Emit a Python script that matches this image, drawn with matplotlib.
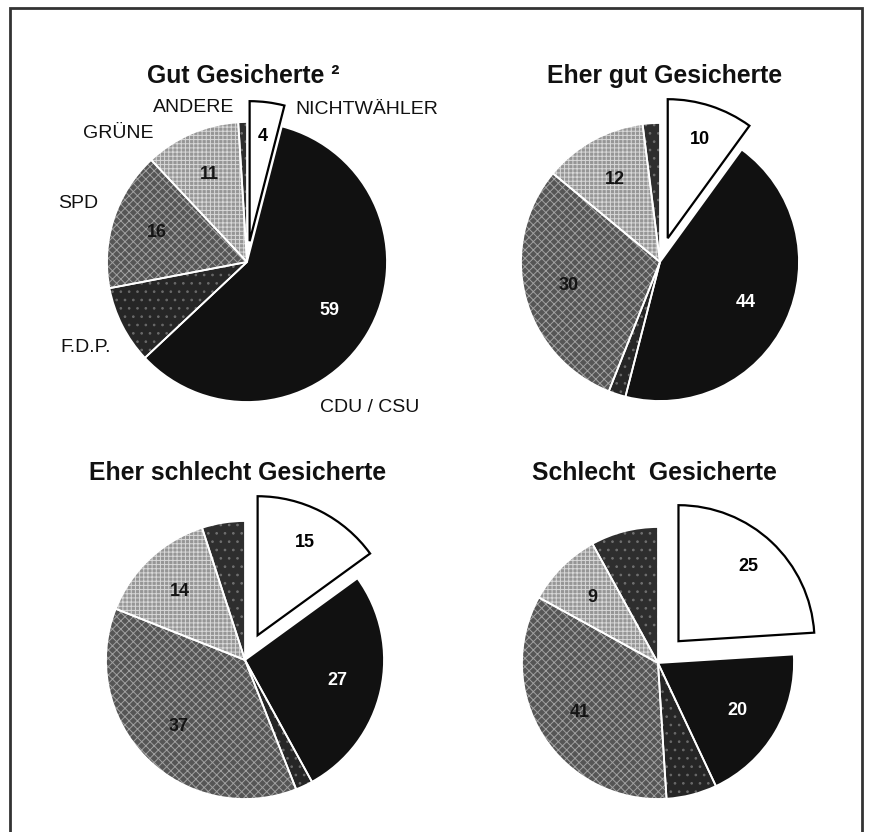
import matplotlib
matplotlib.use('Agg')
import matplotlib.pyplot as plt
import numpy as np

plt.rcParams['font.family'] = ['Liberation Sans', 'DejaVu Sans']
plt.rcParams['hatch.linewidth'] = 0.7

# ---- data -------------------------------------------------------------
parties = ['NICHTWÄHLER', 'CDU / CSU', 'F.D.P.', 'SPD', 'GRÜNE', 'ANDERE']
titles = ['Gut Gesicherte ²', 'Eher gut Gesicherte',
          'Eher schlecht Gesicherte', 'Schlecht  Gesicherte']
gut_gesicherte = [4, 59, 9, 16, 11, 1]
eher_gut_gesicherte = [10, 44, 2, 30, 12, 2]
eher_schlecht_gesicherte = [15, 27, 2, 37, 14, 5]
schlecht_gesicherte = [24, 19, 6, 34, 9, 8]
labels_gut = ['4', '59', '', '16', '11', '']
labels_eher_gut = ['10', '44', '', '30', '12', '']
labels_eher_schlecht = ['15', '27', '', '37', '14', '']
labels_schlecht = ['25', '20', '', '41', '9', '']

series = [gut_gesicherte, eher_gut_gesicherte, eher_schlecht_gesicherte, schlecht_gesicherte]
series_labels = [labels_gut, labels_eher_gut, labels_eher_schlecht, labels_schlecht]

# ---- styling / layout (pixel coordinates, y downward) ------------------
W, H = 871, 832
centers = [(247, 262), (660, 262), (245, 660), (658, 663)]
radii = [140, 139, 139, 136]
explodes = [0.15, 0.18, 0.20, 0.22]
title_pos = [(243, 76), (665, 76), (238, 473), (654, 473)]

faces = ['white', '#111111', '#262626', '#555555', '#969696', '#2e2e2e']
hatch_cols = ['white', '#111111', '#6a6a6a', '#a0a0a0', '#d8d8d8', '#707070']
hatches = [None, None, '..', 'xxxx', '++++', '..']
text_cols = ['black', 'white', 'black', '#151515', '#151515', 'black']
label_dist = [0.75, 0.68, 0.68, 0.68, 0.68, 0.68]

fig = plt.figure(figsize=(W / 100, H / 100), dpi=100)
ax = fig.add_axes([0, 0, 1, 1])

for vals, labs, (cx, cy), r, ex in zip(series, series_labels, centers, radii, explodes):
    explode = [ex * r, 0, 0, 0, 0, 0]
    c = (cx, H - cy)
    wedges, _ = ax.pie(vals, colors=faces, explode=explode, startangle=90,
                       counterclock=False, center=c, radius=r,
                       wedgeprops=dict(linewidth=0))
    for w, h, hc in zip(wedges, hatches, hatch_cols):
        if h:
            w.set_hatch(h)
            w.set_edgecolor(hc)
    # outlines
    outl, _ = ax.pie(vals, explode=explode, startangle=90, counterclock=False,
                     center=c, radius=r,
                     wedgeprops=dict(fill=False, linewidth=1.3, edgecolor='white'))
    outl[0].set_edgecolor('black')
    outl[0].set_linewidth(1.6)
    outl[0].set_zorder(5)
    for w, lab, tc, d in zip(wedges, labs, text_cols, label_dist):
        if not lab:
            continue
        th = np.deg2rad((w.theta1 + w.theta2) / 2)
        x = w.center[0] + d * w.r * np.cos(th)
        y = w.center[1] + d * w.r * np.sin(th)
        ax.text(x, y, lab, ha='center', va='center', fontsize=13,
                fontweight='bold', color=tc, zorder=6)

for t, (tx, ty) in zip(titles, title_pos):
    ax.text(tx, H - ty, t, ha='center', va='center', fontsize=17.8,
            fontweight='bold', color='#111111')

# category labels around the first pie
cat_pos = {'ANDERE': (194, 107), 'NICHTWÄHLER': (367, 110), 'GRÜNE': (118, 133),
           'SPD': (78, 203), 'F.D.P.': (86, 348), 'CDU / CSU': (370, 408)}
for name in parties:
    px, py = cat_pos[name]
    ax.text(px, H - py, name, ha='center', va='center', fontsize=14,
            color='#111111')

# frame
ax.plot([10, 10, 862, 862], [0, H - 8, H - 8, 0], color='#333333', lw=2,
        solid_joinstyle='miter')

ax.set_xlim(0, W)
ax.set_ylim(0, H)
ax.set_aspect('equal')
ax.axis('off')
fig.savefig('out.png', dpi=100)
